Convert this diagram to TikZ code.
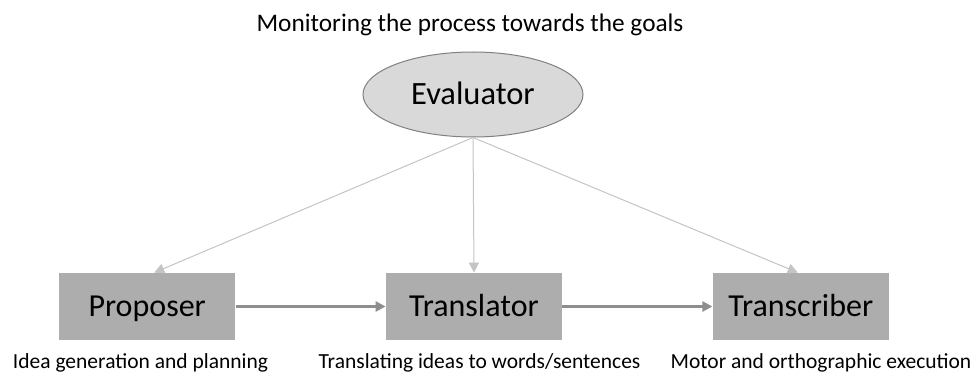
\documentclass[tikz,border=0pt]{standalone}
\usepackage{fontspec}
\setmainfont{Carlito}
\usetikzlibrary{arrows.meta, positioning, shapes.geometric}
\definecolor{boxgray}{HTML}{ADADAD}
\definecolor{ovalgray}{HTML}{D9D9D9}
\definecolor{thingray}{HTML}{C4C4C4}
\definecolor{flowgray}{HTML}{8E8E8E}

\begin{document}
\begin{tikzpicture}[
    x = 1pt, y = 1pt, % pixel units
    > = {Triangle[length=10pt, width=10pt]}, % arrow head style
    node distance = 150pt, % distance between boxes
    thick % line style
]

\tikzstyle{stage}=[
    rectangle,
    fill = boxgray,
    minimum width = 176pt,
    minimum height = 67pt,
    text height = 20.6pt, % cap height, so text sits in the middle
    text depth = 0pt,
    font = \fontsize{32}{36}\selectfont
]
\tikzstyle{caption}=[anchor = base, font = \fontsize{21.5}{24}\selectfont]
\tikzstyle{monitor}=[color = thingray, line width = 1pt]
\tikzstyle{flow}=[color = flowgray, line width = 3pt]

\useasboundingbox (0,0) rectangle (980,373);

\node[anchor = base, font = \fontsize{25.3}{28}\selectfont] (Goal Text) at (470,341) {Monitoring the process towards the goals};
\node[ellipse, draw = gray, line width = 1pt, fill = ovalgray, minimum width = 220pt, minimum height = 85pt,
      text height = 20.9pt, text depth = 0pt,
      font = \fontsize{32.5}{36}\selectfont] (Evaluator) at (473,278.5) {Evaluator};

\node[stage] (Translator) at (474,66.5) {Translator};
\node[stage] (Proposer) [left = of Translator] {Proposer};
\node[stage] (Transcriber) [right = of Translator] {Transcriber};

\node[caption] (Proposer Text) at (140.5,5) {Idea generation and planning};
\node[caption] (Translator Text) at (479.5,5) {Translating ideas to words/sentences};
\node[caption] (Transcriber Text) at (821,5) {Motor and orthographic execution};

\path[->] (Evaluator.south) edge [monitor] ([xshift = 7pt]Proposer.north);
\path[->] (Evaluator.south) edge [monitor] (Translator.north);
\path[->] (Evaluator.south) edge [monitor] ([xshift = -3pt]Transcriber.north);
\path[->] (Proposer) edge [flow] (Translator);
\path[->] (Translator) edge [flow] (Transcriber);

\end{tikzpicture}
\end{document}
